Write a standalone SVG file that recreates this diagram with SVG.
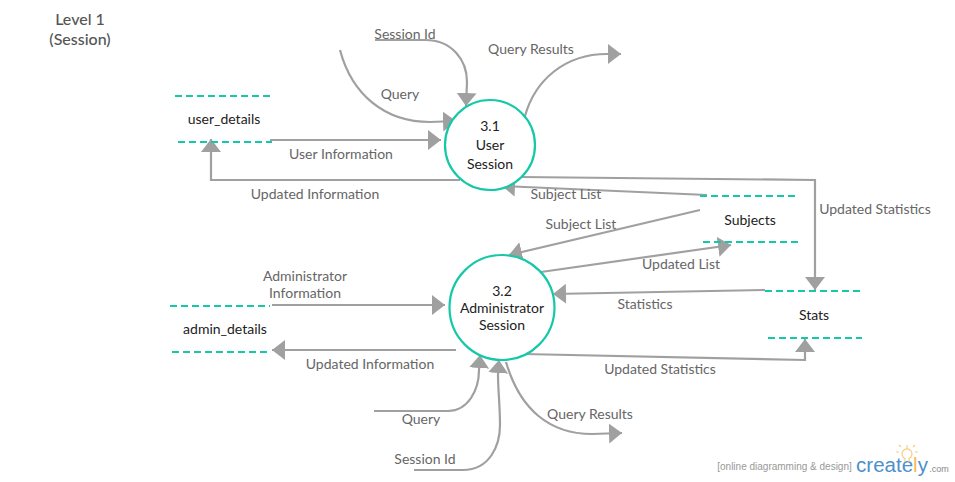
<svg xmlns="http://www.w3.org/2000/svg" width="955" height="482" viewBox="0 0 955 482">
<style>
text{font-family:Lato,"Open Sans",sans-serif;font-size:14px;text-anchor:middle}
.l{fill:#666}
.n{fill:#222}
.t{font-size:16px;fill:#555;font-weight:500}
.c{fill:none;stroke:#a0a0a0;stroke-width:2.2;marker-end:url(#a)}
.o{fill:#fff;stroke:#14c8a8;stroke-width:2.2}
.d{fill:none;stroke:#14c8a8;stroke-width:2;stroke-dasharray:7 4}
</style>
<defs>
<marker id="a" markerUnits="userSpaceOnUse" markerWidth="16" markerHeight="22" refX="13" refY="10" orient="auto">
<path d="M0,0L13,10L0,20Z" fill="#a0a0a0"/>
</marker>
</defs>
<rect width="955" height="482" fill="#fff"/>
<g id="title"><text class="t" x="80" y="25">Level 1</text><text class="t" x="80" y="45">(Session)</text></g>
<g id="connectors">
<path class="c" d="M375,40H425C452,40 467,60 467,82L466,106"/>
<path class="c" d="M340,50C352,95 385,122 430,122L456,121"/>
<path class="c" d="M525,116C535,80 565,54 607,54H621"/>
<path class="c" d="M270,140H441"/>
<path class="c" d="M460,180H211V139"/>
<path class="c" d="M707,195L502,186"/>
<path class="c" d="M520,177L815,180V290"/>
<path class="c" d="M700,210L509,255"/>
<path class="c" d="M541,272L731,245"/>
<path class="c" d="M765,290L553,294"/>
<path class="c" d="M523,354L805,360V339"/>
<path class="c" d="M272,305H445"/>
<path class="c" d="M456,350H272"/>
<path class="c" d="M374,411H448C468,411 479,390 479,370L480,355"/>
<path class="c" d="M414,470H463C490,470 500,445 500,425C500,405 498,390 498,375L499,360"/>
<path class="c" d="M506,362C520,410 550,434 592,434L622,433"/>
</g>
<g id="n31"><circle class="o" cx="490" cy="145" r="45"/><text class="n" x="490" y="131">3.1</text><text class="n" x="490" y="150">User</text><text class="n" x="490" y="169">Session</text></g>
<g id="n32"><circle class="o" cx="502" cy="307.5" r="52.5"/><text class="n" x="502" y="296">3.2</text><text class="n" x="502" y="313">Administrator</text><text class="n" x="502" y="330">Session</text></g>
<g id="user_details"><path class="d" d="M175,96H272M178,142H272"/><text class="n" x="224" y="124">user_details</text></g>
<g id="subjects"><path class="d" d="M700,196H798M703,242H798"/><text class="n" x="750" y="225">Subjects</text></g>
<g id="stats"><path class="d" d="M765,291H862M768,338H862"/><text class="n" x="814" y="320">Stats</text></g>
<g id="admin_details"><path class="d" d="M170,306H270M172,352H270"/><text class="n" x="225" y="334">admin_details</text></g>
<g id="labels">
<text class="l" x="405" y="39">Session Id</text>
<text class="l" x="400" y="99">Query</text>
<text class="l" x="531" y="54">Query Results</text>
<text class="l" x="341" y="159">User Information</text>
<text class="l" x="315" y="199">Updated Information</text>
<text class="l" x="566" y="199">Subject List</text>
<text class="l" x="581" y="229">Subject List</text>
<text class="l" x="875" y="214">Updated Statistics</text>
<text class="l" x="681" y="269">Updated List</text>
<text class="l" x="645" y="309">Statistics</text>
<text class="l" x="305" y="281">Administrator</text>
<text class="l" x="305" y="298">Information</text>
<text class="l" x="370" y="369">Updated Information</text>
<text class="l" x="660" y="374">Updated Statistics</text>
<text class="l" x="421" y="424">Query</text>
<text class="l" x="425" y="464">Session Id</text>
<text class="l" x="590" y="419">Query Results</text>
</g>
<g id="logo">
<text x="784.500" y="470" style="font-family:'Liberation Sans',sans-serif;font-size:10px;fill:#999">[online diagramming &amp; design]</text>
<text x="892" y="472" style="font-family:'Liberation Sans',sans-serif;font-size:20.500px;fill:#4d8fcc">create<tspan fill="#f5b95f">l</tspan>y</text>
<text x="939" y="472" style="font-family:'Liberation Sans',sans-serif;font-size:9px;fill:#888">.com</text>
<path d="M905,462v-3.500a5,5 0 1 1 4,0v3.500M907,449v-4M899,452h-3M918,452h-3M901,447l-2,-2M913,447l2,-2" fill="none" stroke="#f8cd84" stroke-width="1.200"/>
</g>
</svg>
